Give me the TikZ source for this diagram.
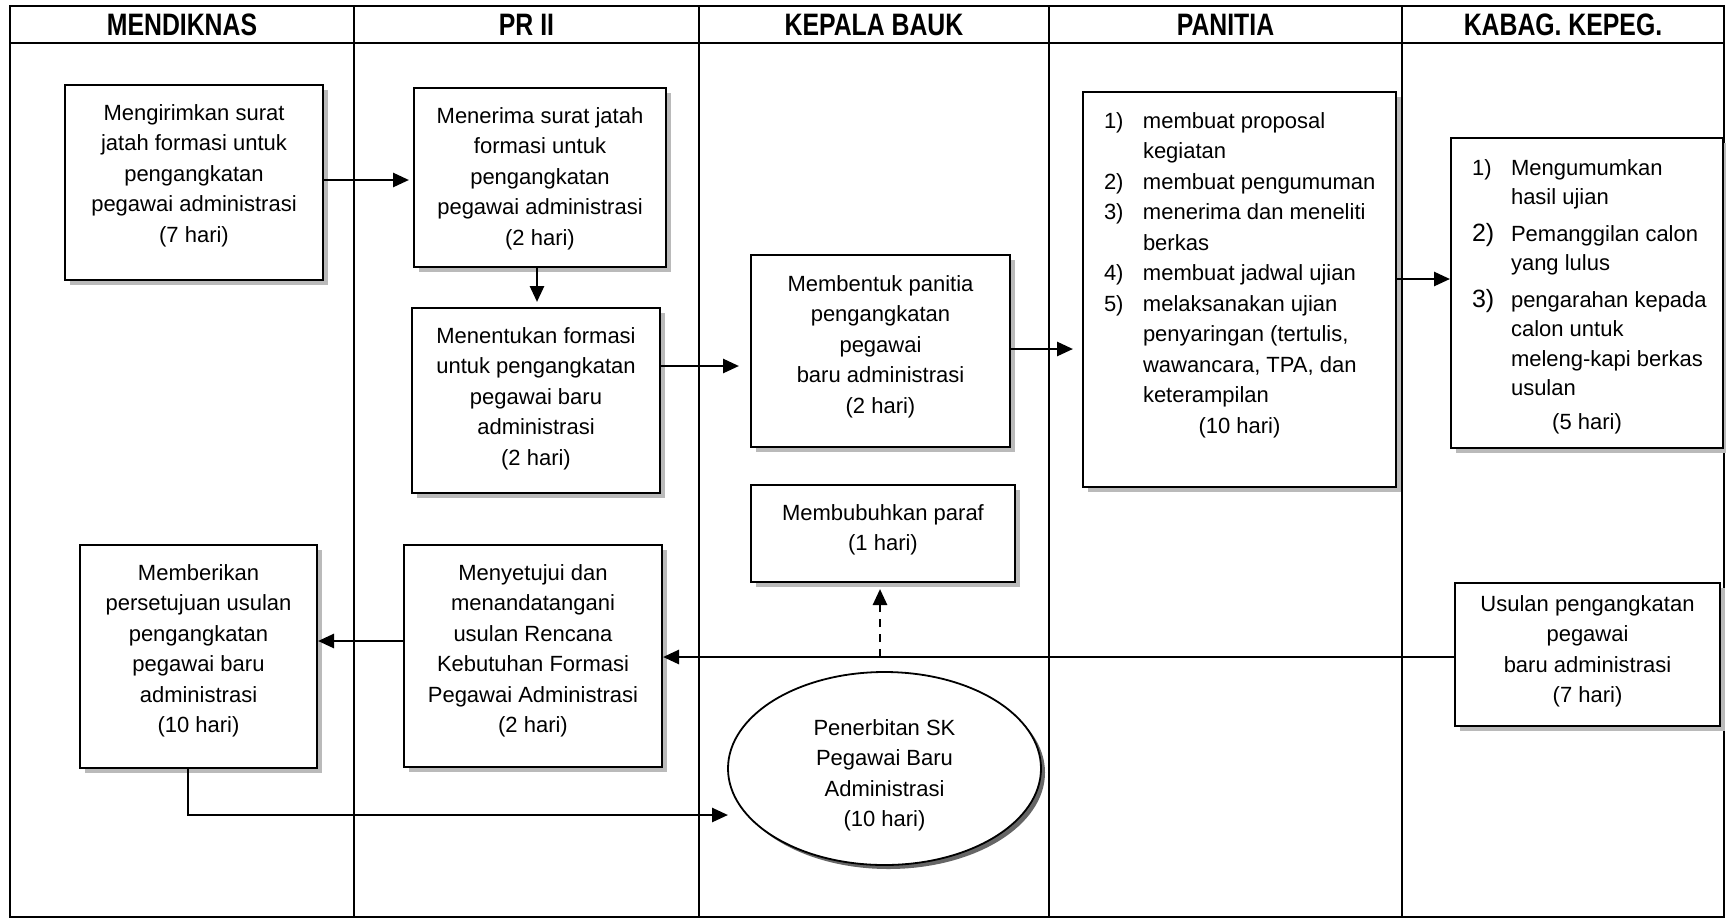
\documentclass[tikz,border=0pt]{standalone}
\usepackage{fontspec}
\setmainfont{Liberation Sans}
\newfontfamily\hdrfont{Liberation Sans}[FakeStretch=0.8]
\usetikzlibrary{arrows.meta,shapes.geometric,shadows}

% text block of fixed size, first baseline #3 below the top edge
\newcommand\flowtext[4]{\parbox[c][#2][t]{#1}{\centering\vspace*{\dimexpr#3-\ht\strutbox\relax}\strut#4\par}}
% numbered list block of fixed size
\newcommand\flowlist[4]{\parbox[c][#2][t]{#1}{\raggedright\vspace*{\dimexpr#3-\ht\strutbox\relax}\strut#4\par}}
\newcommand\numitem[1]{\hspace*{21pt}\makebox[39pt][l]{#1}}
\newcommand\numcont{\hspace*{60pt}}

\begin{document}
\begin{tikzpicture}[x=1pt,y=-1pt,
  txt/.style={font=\fontsize{22}{30.5}\selectfont},
  stepbox/.style={txt, draw, line width=2pt, fill=white, inner sep=0pt,
    drop shadow={shadow xshift=5pt,shadow yshift=-5pt,fill=black!27,opacity=1}},
  endshape/.style={ellipse, draw, line width=1.8pt, fill=white, inner sep=0pt,
    drop shadow={shadow xshift=4pt,shadow yshift=-4pt,fill=black!60,opacity=1}},
  hdr/.style={font=\hdrfont\bfseries\fontsize{31}{36}\selectfont, inner sep=0pt},
  frame/.style={line width=2.2pt},
  lane/.style={line width=1.6pt},
  arr/.style={line width=2.7pt, -{Triangle[length=16pt,width=14pt]}},
  dasharr/.style={arr, dash pattern=on 8pt off 7pt}]

\useasboundingbox (0,0) rectangle (1726,922);

% swimlane frame
\draw[frame] (10,6) rectangle (1724,917);
\draw[frame] (10,43) -- (1724,43);
\foreach \lx in {354,699,1049,1402} \draw[lane] (\lx,6) -- (\lx,917);

% lane titles
\node[hdr] (h1) at (182,24.5) {MENDIKNAS};
\node[hdr] (h2) at (526.5,24.5) {PR II};
\node[hdr] (h3) at (874,24.5) {KEPALA BAUK};
\node[hdr] (h4) at (1225.5,24.5) {PANITIA};
\node[hdr] (h5) at (1563,24.5) {KABAG. KEPEG.};

% process steps
\node[stepbox] (A) at (194,182.5) {\flowtext{258pt}{195pt}{35pt}{Mengirimkan surat\\jatah formasi untuk\\pengangkatan\\pegawai administrasi\\(7 hari)}};
\node[stepbox] (B) at (540,177.5) {\flowtext{252pt}{179pt}{35pt}{Menerima surat jatah\\formasi untuk\\pengangkatan\\pegawai administrasi\\(2 hari)}};
\node[stepbox] (C) at (536,400.5) {\flowtext{248pt}{185pt}{35pt}{Menentukan formasi\\untuk pengangkatan\\pegawai baru\\administrasi\\(2 hari)}};
\node[stepbox] (D) at (880.5,351) {\flowtext{259pt}{192pt}{36pt}{Membentuk panitia\\pengangkatan\\pegawai\\baru administrasi\\(2 hari)}};
\node[stepbox] (E) at (1239.5,289.5) {\flowlist{313pt}{395pt}{36pt}{%
  \numitem{1)}membuat proposal\\
  \numcont kegiatan\\
  \numitem{2)}membuat pengumuman\\
  \numitem{3)}menerima dan meneliti\\
  \numcont berkas\\
  \numitem{4)}membuat jadwal ujian\\
  \numitem{5)}melaksanakan ujian\\
  \numcont penyaringan (tertulis,\\
  \numcont wawancara, TPA, dan\\
  \numcont keterampilan\par
  \centering (10 hari)}};
\node[stepbox, font=\fontsize{22}{29.5}\selectfont] (F) at (1587,293) {\flowlist{272pt}{310pt}{37pt}{%
  \numitem{1)}Mengumumkan\\
  \numcont hasil ujian\\[7pt]
  \numitem{\fontsize{25}{29.5}\selectfont 2)}Pemanggilan calon\\
  \numcont yang lulus\\[7pt]
  \numitem{\fontsize{25}{29.5}\selectfont 3)}pengarahan kepada\\
  \numcont calon untuk\\
  \numcont meleng-kapi berkas\\
  \numcont usulan\par
  \vspace{4pt}\centering (5 hari)}};
\node[stepbox] (G) at (883,533.5) {\flowtext{264pt}{97pt}{35pt}{Membubuhkan paraf\\(1 hari)}};
\node[stepbox] (H) at (198.5,656.5) {\flowtext{237pt}{223pt}{35pt}{Memberikan\\persetujuan usulan\\pengangkatan\\pegawai baru\\administrasi\\(10 hari)}};
\node[stepbox] (I) at (533,656) {\flowtext{258pt}{222pt}{35pt}{Menyetujui dan\\menandatangani\\usulan Rencana\\Kebutuhan Formasi\\Pegawai Administrasi\\(2 hari)}};
\node[stepbox] (K) at (1587.5,654.5) {\flowtext{265pt}{143pt}{28pt}{Usulan pengangkatan\\pegawai\\baru administrasi\\(7 hari)}};
\node[endshape, minimum width=313pt, minimum height=193pt] (J) at (884.5,768.5) {};
\node[txt, inner sep=0pt] (Jt) at (J.center) {\flowtext{300pt}{193pt}{63pt}{Penerbitan SK\\Pegawai Baru\\Administrasi\\(10 hari)}};

% connector levels
\coordinate (lAB) at (0,180);
\coordinate (lBC) at (537,0);
\coordinate (lCD) at (0,366);
\coordinate (lDE) at (0,349);
\coordinate (lEF) at (0,279);
\coordinate (lIH) at (0,641);
\coordinate (lKI) at (0,657);
\coordinate (lHJ) at (188,0);
\coordinate (pd) at (880,657);
\coordinate (jin) at (728,815);

% connectors
\draw[arr, shorten >=4pt] (A.east |- lAB) -- (B.west |- lAB);
\draw[arr, shorten >=5pt] (B.south -| lBC) -- (C.north -| lBC);
\draw[arr, shorten >=11pt] (C.east |- lCD) -- (D.west |- lCD);
\draw[arr, shorten >=9pt] (D.east |- lDE) -- (E.west |- lDE);
\draw[arr] (E.east |- lEF) -- (F.west |- lEF);
\draw[arr] (K.west |- lKI) -- (I.east |- lKI);
\draw[arr] (I.west |- lIH) -- (H.east |- lIH);
\draw[arr] (H.south -| lHJ) |- (jin);
\draw[dasharr, shorten >=6pt] (pd) -- (pd |- G.south);

\end{tikzpicture}
\end{document}
